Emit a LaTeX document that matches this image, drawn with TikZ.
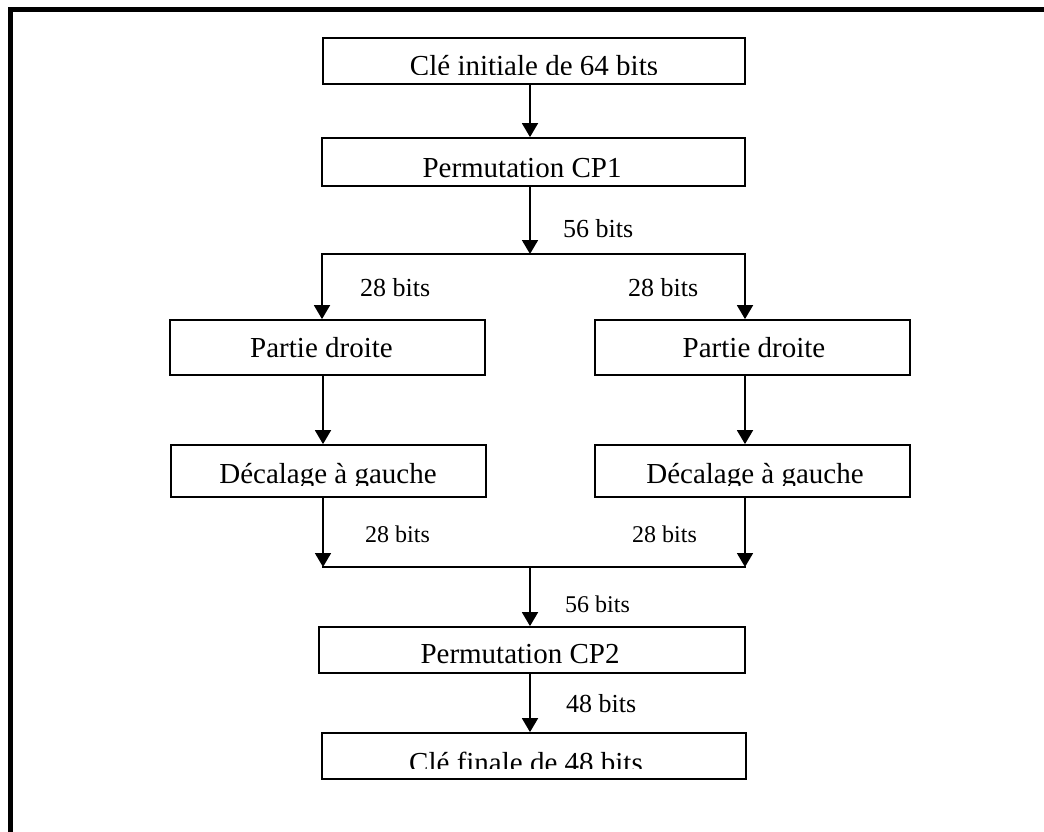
\documentclass[tikz,border=0pt]{standalone}
\usepackage{fontspec}
\setmainfont{Liberation Serif}
\usetikzlibrary{arrows.meta}
\tikzset{
  box/.style={draw, line width=1.8pt, inner sep=0pt, rectangle},
  flow/.style={line width=1.8pt},
  arr/.style={flow, -{Triangle[width=16pt,length=14pt]}},
  boxtext/.style={font=\fontsize{29}{34}\selectfont, anchor=base, inner sep=0pt},
  lbl/.style={font=\fontsize{26}{30}\selectfont, anchor=base west, inner sep=0pt},
  lbls/.style={font=\fontsize{24}{28}\selectfont, anchor=base west, inner sep=0pt},
}
\begin{document}
\begin{tikzpicture}[x=1pt,y=-1pt]
\useasboundingbox (0,0) rectangle (1044,832);

% outer frame (top and left edges)
\draw[line width=5.5pt] (10.3,832) -- (10.3,9.5) -- (1044,9.5);

% boxes
\node[box, minimum width=422pt, minimum height=46pt] (b1)  at (534,61)    {};
\node[box, minimum width=423pt, minimum height=48pt] (cp1) at (533.5,162) {};
\node[box, minimum width=315pt, minimum height=55pt] (pdL) at (327.5,347.5) {};
\node[box, minimum width=315pt, minimum height=55pt] (pdR) at (752.5,347.5) {};
\node[box, minimum width=315pt, minimum height=52pt] (dgL) at (328.5,471) {};
\node[box, minimum width=315pt, minimum height=52pt] (dgR) at (752.5,471) {};
\node[box, minimum width=426pt, minimum height=46pt] (cp2) at (532,650)   {};
\node[box, minimum width=424pt, minimum height=46pt] (fin) at (534,756)   {};

% box texts
\begin{scope}
  \clip (323,38) rectangle (745,74.5);
  \node[boxtext] (t-b1) at (534,76) {Clé initiale de 64 bits};
\end{scope}
\node[boxtext] (t-cp1) at (522,177) {Permutation CP1};
\node[boxtext] (t-pdL) at (321.5,357) {Partie droite};
\node[boxtext] (t-pdR) at (754,357) {Partie droite};
\begin{scope}
  \clip (171,445) rectangle (910,485.5);
  \node[boxtext] (t-dgL) at (328,483) {Décalage à gauche};
  \node[boxtext] (t-dgR) at (755,483) {Décalage à gauche};
\end{scope}
\node[boxtext] (t-cp2) at (520,663) {Permutation CP2};
\begin{scope}
  \clip (322,733) rectangle (746,768);
  \node[boxtext] (t-fin) at (526,772) {Clé finale de 48 bits};
\end{scope}

% routing points
\coordinate (trunk)  at (530,0);
\coordinate (split)  at (530,254);
\coordinate (splitL) at (322,254);
\coordinate (splitR) at (745,254);
\coordinate (joinL)  at (323,567);
\coordinate (joinR)  at (745,567);
\coordinate (join)   at (530,567);

% connectors
\draw[arr] (b1.south -| trunk) -- (cp1.north -| trunk);
\draw[arr] (cp1.south -| trunk) -- (split);
\draw[flow, line cap=rect] (splitL) -- (splitR);
\draw[arr] (splitL) -- (pdL.north -| splitL);
\draw[arr] (splitR) -- (pdR.north -| splitR);
\draw[arr] (pdL.south -| joinL) -- (dgL.north -| joinL);
\draw[arr] (pdR.south -| joinR) -- (dgR.north -| joinR);
\draw[arr] (dgL.south -| joinL) -- (joinL);
\draw[arr] (dgR.south -| joinR) -- (joinR);
\draw[flow, line cap=rect] (joinL) -- (joinR);
\draw[arr] (join) -- (cp2.north -| join);
\draw[arr] (cp2.south -| join) -- (fin.north -| join);

% bit-width labels
\node[lbl]  (l56a) at (563,237) {56 bits};
\node[lbl]  (l28a) at (360,296) {28 bits};
\node[lbl]  (l28b) at (628,296) {28 bits};
\node[lbls] (l28c) at (365,542) {28 bits};
\node[lbls] (l28d) at (632,542) {28 bits};
\node[lbls] (l56b) at (565,612) {56 bits};
\node[lbl]  (l48)  at (566,712) {48 bits};
\end{tikzpicture}
\end{document}
